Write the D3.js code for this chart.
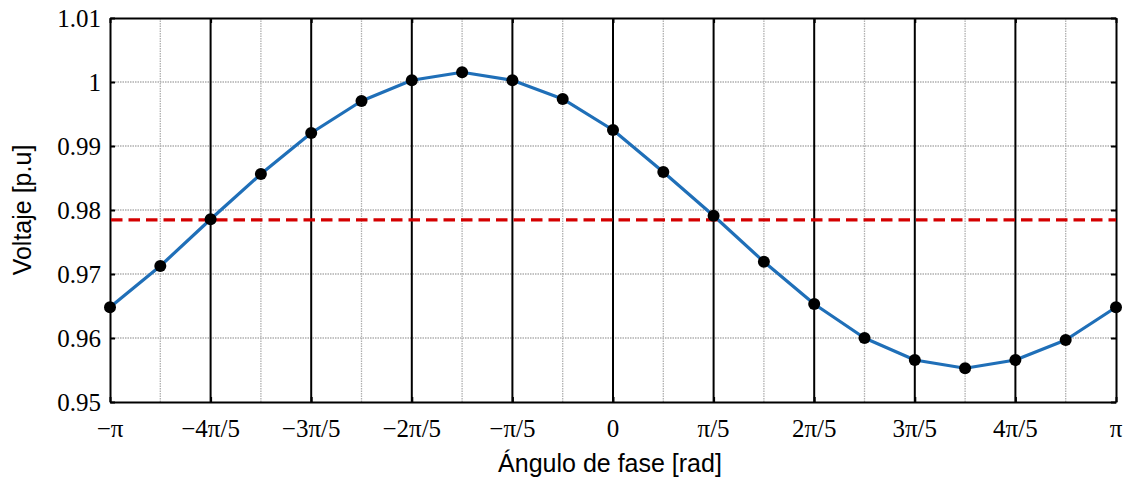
<!DOCTYPE html>
<html><head><meta charset="utf-8">
<script src="https://cdn.jsdelivr.net/npm/d3@7"></script>
<style>body{margin:0;background:#fff}
svg text.tl{font:25px "Liberation Serif","Times New Roman",serif;}
</style>
</head><body>
<svg id="c" width="1129" height="479"></svg>
<script>
const phaseSteps = [-10,-9,-8,-7,-6,-5,-4,-3,-2,-1,0,1,2,3,4,5,6,7,8,9,10]; // multiples of pi/10
const voltage = [0.9648,0.97125,0.97855,0.98562,0.99203,0.99703,1.00027,1.00152,1.00027,0.99735,0.9925,0.98594,0.9791,0.9719,0.96531,0.9600,0.95656,0.95527,0.95656,0.95969,0.9648];
const refLevel = 0.97845;
const yTicks = [0.95,0.96,0.97,0.98,0.99,1,1.01];
const yTickLabels = ["0.95","0.96","0.97","0.98","0.99","1","1.01"];
const xTickSteps = [-5,-4,-3,-2,-1,0,1,2,3,4,5]; // multiples of pi/5
const xTickLabels = ["\u2212\u03c0","\u22124\u03c0/5","\u22123\u03c0/5","\u22122\u03c0/5","\u2212\u03c0/5","0","\u03c0/5","2\u03c0/5","3\u03c0/5","4\u03c0/5","\u03c0"];
const minorSteps = [-9,-7,-5,-3,-1,1,3,5,7,9]; // odd multiples of pi/10

const svg = d3.select("#c");
const L=110, R=1116, T=18, B=402;
const x = d3.scaleLinear().domain([-Math.PI, Math.PI]).range([L,R]);
const y = d3.scaleLinear().domain([0.95,1.01]).range([B,T]);

// minor vertical grid (gray dotted)
svg.append("g").selectAll("line").data(minorSteps).join("line")
  .attr("x1",d=>x(d*Math.PI/10)).attr("x2",d=>x(d*Math.PI/10))
  .attr("y1",T).attr("y2",B)
  .attr("stroke","#b0b0b0").attr("stroke-width",1.3).attr("stroke-dasharray","1.5,1");
// horizontal grid
svg.append("g").selectAll("line").data(yTicks.slice(1,-1)).join("line")
  .attr("x1",L).attr("x2",R).attr("y1",d=>y(d)).attr("y2",d=>y(d))
  .attr("stroke","#b0b0b0").attr("stroke-width",1.3).attr("stroke-dasharray","1.5,1");
// major vertical lines (black)
svg.append("g").selectAll("line").data(xTickSteps.slice(1,-1)).join("line")
  .attr("x1",d=>x(d*Math.PI/5)).attr("x2",d=>x(d*Math.PI/5))
  .attr("y1",T).attr("y2",B)
  .attr("stroke","#000").attr("stroke-width",2);

// axes (lines and tick marks)
const yAxisL = d3.axisLeft(y).tickValues(yTicks).tickFormat("").tickSizeInner(-5).tickSizeOuter(0);
const yAxisR = d3.axisRight(y).tickValues(yTicks).tickFormat("").tickSizeInner(-5).tickSizeOuter(0);
const xAxisB = d3.axisBottom(x).tickValues(xTickSteps.map(d=>d*Math.PI/5)).tickFormat("").tickSizeInner(-5).tickSizeOuter(0);
const xAxisT = d3.axisTop(x).tickValues(xTickSteps.map(d=>d*Math.PI/5)).tickFormat("").tickSizeInner(-5).tickSizeOuter(0);
function styleAxis(g){
  g.select(".domain").attr("stroke","#000").attr("stroke-width",2);
  g.selectAll(".tick line").attr("stroke","#000").attr("stroke-width",2);
}
svg.append("g").attr("transform",`translate(${L},0)`).call(yAxisL).call(styleAxis);
svg.append("g").attr("transform",`translate(${R},0)`).call(yAxisR).call(styleAxis);
svg.append("g").attr("transform",`translate(0,${B})`).call(xAxisB).call(styleAxis);
svg.append("g").attr("transform",`translate(0,${T})`).call(xAxisT).call(styleAxis);

// tick labels
svg.append("g").selectAll("text").data(yTicks).join("text")
  .attr("class","tl")
  .attr("x",L-9).attr("y",d=>y(d)).attr("dy","0.35em").attr("text-anchor","end")
  .attr("font-family","Liberation Serif").attr("font-size",25).attr("fill","#000")
  .style("font-family","'Liberation Serif'").style("font-size","25px")
  .text((d,i)=>yTickLabels[i]);
svg.append("g").selectAll("text").data(xTickSteps).join("text")
  .attr("class","tl")
  .attr("x",d=>x(d*Math.PI/5)).attr("y",B+35).attr("text-anchor","middle")
  .attr("font-family","Liberation Serif").attr("font-size",25).attr("fill","#000")
  .style("font-family","'Liberation Serif'").style("font-size","25px")
  .text((d,i)=>xTickLabels[i]);

// data line
const pts = phaseSteps.map((k,i)=>({xv:k*Math.PI/10, yv:voltage[i]}));
svg.append("path").datum(pts)
  .attr("d", d3.line().x(d=>x(d.xv)).y(d=>y(d.yv)))
  .attr("fill","none").attr("stroke","#1f6fb8").attr("stroke-width",3.2).attr("stroke-linejoin","round");

// reference dashed line
svg.append("line").attr("x1",L+1).attr("x2",R)
  .attr("y1",y(refLevel)).attr("y2",y(refLevel))
  .attr("stroke","#d40000").attr("stroke-width",3.2).attr("stroke-dasharray","11.5,6");

// markers
svg.append("g").selectAll("circle").data(pts).join("circle")
  .attr("cx",d=>x(d.xv)).attr("cy",d=>y(d.yv)).attr("r",6).attr("fill","#000");

// axis labels
svg.append("text").attr("x",610).attr("y",472).attr("text-anchor","middle")
  .attr("font-family","Liberation Sans").attr("font-size",25).attr("fill","#000")
  .text("Ángulo de fase [rad]");
svg.append("text").attr("transform",`translate(31,${(T+B)/2}) rotate(-90)`).attr("text-anchor","middle")
  .attr("font-family","Liberation Sans").attr("font-size",25).attr("fill","#000")
  .text("Voltaje [p.u]");
</script>
</body></html>
